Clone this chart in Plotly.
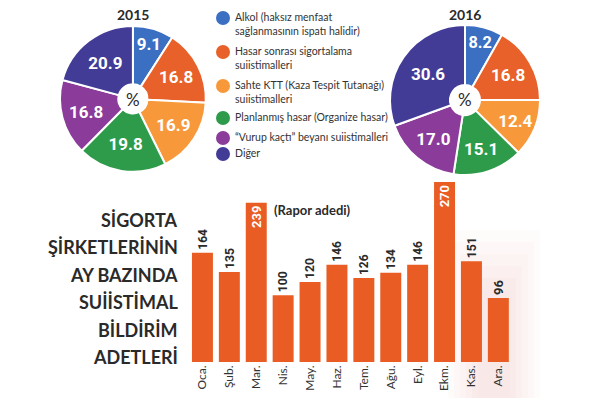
import plotly.graph_objects as go

# ---- data ----
categories = [
    "Alkol (haksız menfaat<br>sağlanmasının ispatı halidir)",
    "Hasar sonrası sigortalama<br>suiistimalleri",
    "Sahte KTT (Kaza Tespit Tutanağı)<br>suiistimalleri",
    "Planlanmış hasar (Organize hasar)",
    "“Vurup kaçtı” beyanı suiistimalleri",
    "Diğer",
]
short_names = ["Alkol", "Hasar sonrası sigortalama", "Sahte KTT", "Planlanmış hasar", "Vurup kaçtı", "Diğer"]
share_2015 = [9.1, 16.8, 16.9, 19.8, 16.8, 20.9]
share_2016 = [8.2, 16.8, 12.4, 15.1, 17.0, 30.6]
colors = ["#3b6fc2", "#e8602a", "#f7993b", "#2e9b4b", "#8b3b9a", "#423c97"]

months = ["Oca.", "Şub.", "Mar.", "Nis.", "May.", "Haz.", "Tem.", "Ağu.", "Eyl.", "Ekm.", "Kas.", "Ara."]
reports = [164, 135, 239, 100, 120, 146, 126, 134, 146, 270, 151, 96]

title_lines = ["SİGORTA", "ŞİRKETLERİNİN", "AY BAZINDA", "SUİİSTİMAL", "BİLDİRİM", "ADETLERİ"]

BAR = "#e95d25"
TXT = "#2a2a2a"
NUM_FONT = "Roboto"
TXT_FONT = "Lato, Open Sans, sans-serif"

fig = go.Figure()

pie_common = dict(
    sort=False, direction="clockwise", rotation=0, hole=0.2,
    marker=dict(colors=colors, line=dict(color="white", width=2)),
    textinfo="text", textposition="inside", insidetextorientation="horizontal",
    textfont=dict(family=NUM_FONT, size=17, color="white", weight="bold"),
    showlegend=False, hoverinfo="label+value",
)
fig.add_trace(go.Pie(labels=short_names, values=share_2015,
                     text=[f"{v:.1f}" for v in share_2015],
                     domain=dict(x=[0.100, 0.343], y=[0.568, 0.935]), **pie_common))
fig.add_trace(go.Pie(labels=short_names, values=share_2016,
                     text=[f"{v:.1f}" for v in share_2016],
                     domain=dict(x=[0.650, 0.900], y=[0.560, 0.937]), **pie_common))

positions = ["inside" if v > 200 else "outside" for v in reports]
fig.add_trace(go.Bar(
    x=months, y=reports, marker=dict(color=BAR, line=dict(width=0)),
    text=[str(v) for v in reports], textposition=positions, textangle=-90,
    insidetextanchor="end",
    insidetextfont=dict(family=NUM_FONT, size=13, color="white", weight="bold"),
    outsidetextfont=dict(family=NUM_FONT, size=13, color=TXT, weight="bold"),
    cliponaxis=False, showlegend=False, xaxis="x", yaxis="y",
))

fig.update_layout(
    width=600, height=398, margin=dict(l=0, r=0, t=0, b=0),
    paper_bgcolor="white", plot_bgcolor="rgba(0,0,0,0)",
    bargap=0.22,
    xaxis=dict(domain=[0.315, 0.853], tickangle=-90, showgrid=False, zeroline=False,
               showline=False, ticks="", tickfont=dict(family=TXT_FONT, size=12, color="#333")),
    yaxis=dict(domain=[0.0905, 0.593], range=[0, 300], visible=False),
)

def px(x):
    return x / 600

def py(y):
    return 1 - y / 398

ann = []
shapes = []
# faint blurred background tint at the right
for k in range(6):
    shapes.append(dict(type="rect", xref="paper", yref="paper", layer="below",
                       x0=px(448 + k * 6), x1=px(540 - k * 6), y0=0, y1=py(230 + k * 12),
                       fillcolor="#efb3ad", opacity=0.05, line=dict(width=0)))

# pie titles and centre marks
for x, t in [(133, "2015"), (465, "2016")]:
    ann.append(dict(x=px(x), y=py(14), xref="paper", yref="paper", text=f"<b>{t}</b>",
                    xanchor="center", yanchor="middle",
                    showarrow=False, font=dict(family=TXT_FONT, size=14, color=TXT)))
for x, y in [(133, 99), (465, 100)]:
    ann.append(dict(x=px(x), y=py(y), xref="paper", yref="paper", text="%",
                    xanchor="center", yanchor="middle",
                    showarrow=False, font=dict(family=TXT_FONT, size=17, color=TXT)))

# legend
dot_y = [18, 52, 86, 118, 138, 154]
for c, lab, y in zip(colors, categories, dot_y):
    shapes.append(dict(type="circle", xref="paper", yref="paper",
                       x0=px(223 - 7), x1=px(223 + 7),
                       y0=py(y + 7), y1=py(y - 7),
                       fillcolor=c, line=dict(width=0)))
    ann.append(dict(x=px(233), y=py(y - 9), xref="paper", yref="paper",
                    xanchor="left", yanchor="top", align="left", text=lab, showarrow=False,
                    font=dict(family=TXT_FONT, size=10.5, color="#333")))

# left title
for i, line in enumerate(title_lines):
    ann.append(dict(x=px(180), y=py(220 + i * 27.4), xref="paper", yref="paper",
                    xanchor="right", yanchor="middle", text=f"<b>{line}</b>", showarrow=False,
                    font=dict(family=TXT_FONT, size=18, color=TXT)))

ann.append(dict(x=px(272), y=py(210), xref="paper", yref="paper", xanchor="left",
                yanchor="middle", text="<b>(Rapor adedi)</b>", showarrow=False,
                font=dict(family=TXT_FONT, size=13, color=TXT)))

fig.update_layout(annotations=ann, shapes=shapes)
fig.write_html("out.html", config={"displayModeBar": False},
               post_script="document.body.style.margin='0';document.body.style.padding='0';")
